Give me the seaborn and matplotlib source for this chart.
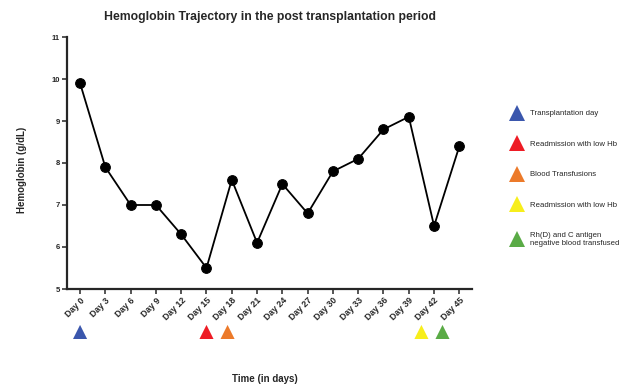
import matplotlib
matplotlib.use("Agg")
import matplotlib.pyplot as plt
from matplotlib.lines import Line2D
from matplotlib.patches import Rectangle
import seaborn as sns
import pandas as pd

days = [0, 3, 6, 9, 12, 15, 18, 21, 24, 27, 30, 33, 36, 39, 42, 45]
hemoglobin = [9.9, 7.9, 7.0, 7.0, 6.3, 5.5, 7.6, 6.1, 7.5, 6.8, 7.8, 8.1, 8.8, 9.1, 6.5, 8.4]
tick_labels = [f"Day {d}" for d in days]

event_days = [0, 15, 17.5, 40.5, 43]
event_labels = ["Transplantation day", "Readmission with low Hb", "Blood Transfusions",
                "Readmission with low Hb", "Rh(D) and C antigen\nnegative blood transfused"]
event_colors = ["#3b57ad", "#ee1c25", "#ec7a2a", "#f7ee1c", "#5aab46"]

sns.set_style("ticks")
plt.rcParams['font.family'] = ['Liberation Sans', 'DejaVu Sans']

fig = plt.figure(figsize=(6.28, 3.86), dpi=100)
ax = fig.add_axes([67/628, 1-289/386, (472-67)/628, (289-37)/386])

df = pd.DataFrame({"day": days, "hb": hemoglobin})
sns.lineplot(data=df, x="day", y="hb", ax=ax, color="black", linewidth=1.3,
             marker="o", markersize=7, markeredgecolor="black", markerfacecolor="black")

ax.set_xlim(-1.55, 46.5)
ax.set_ylim(5, 11)
ax.set_yticks(range(5, 12))
ax.set_xticks(days)
ax.set_xticklabels(tick_labels, rotation=45, ha="right", rotation_mode="anchor",
                   fontsize=6.3, fontweight="bold")
for lab in ax.get_yticklabels():
    lab.set_fontsize(5.5)
    lab.set_fontweight("bold")
ax.tick_params(axis="both", length=3.5, width=1.1, pad=1.5)
for s in ["left", "bottom"]:
    ax.spines[s].set_linewidth(1.6)
sns.despine(ax=ax)

ax.set_title("Hemoglobin Trajectory in the post transplantation period",
             fontsize=8.8, fontweight="bold", pad=12)
ax.set_ylabel("Hemoglobin (g/dL)", fontsize=7, fontweight="bold")
ax.yaxis.set_label_coords((22-67)/405, (289-170)/252)
ax.set_xlabel("Time (in days)", fontsize=7, fontweight="bold")
ax.xaxis.set_label_coords((265-67)/405, (289-379)/252)
ax.xaxis.label.set_va("center")
ax.yaxis.label.set_va("center")

clip = Rectangle((0, 1-339/386), 1, 339/386, transform=fig.transFigure)
sc = ax.scatter(event_days, [-0.179]*len(event_days), marker="^", s=175,
                c=event_colors, transform=ax.get_xaxis_transform(), clip_on=False,
                linewidths=0, zorder=3)
sc.set_clip_path(clip)
sc.set_clip_on(True)

handles = [Line2D([], [], linestyle="none", marker="^", markersize=11.5,
                  markerfacecolor=c, markeredgewidth=0) for c in event_colors]
fig.legend(handles, event_labels, loc="upper left", bbox_to_anchor=(504/628, 1-103/386),
           frameon=False, fontsize=5.6, labelspacing=2.95, handletextpad=1.0,
           handlelength=1.5)

fig.savefig("out.png", dpi=100)
